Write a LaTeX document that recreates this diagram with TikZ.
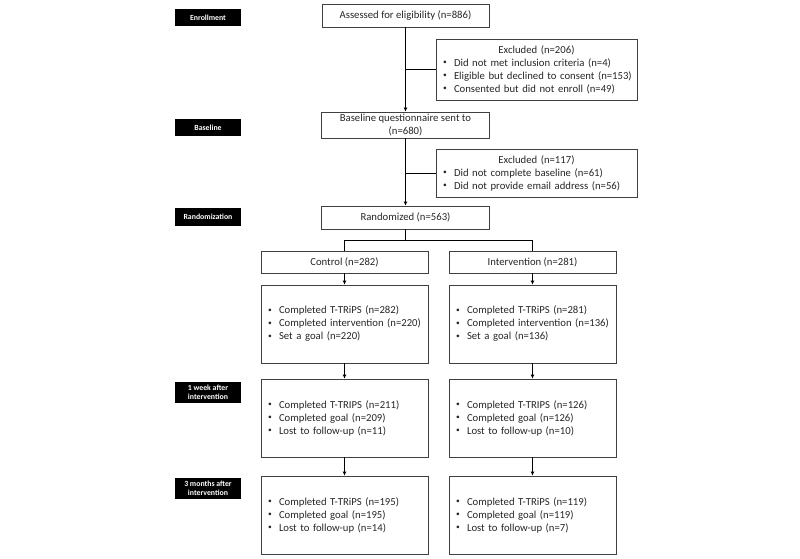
\documentclass[tikz,border=0pt]{standalone}
\usepackage{fontspec}
\setmainfont{Carlito}
\usetikzlibrary{arrows.meta,positioning}

\tikzset{
  stage/.style={fill=black,text=white,font=\fontsize{7.8}{9}\selectfont\bfseries,
    minimum width=66pt,inner sep=1pt,align=center},
  flowbox/.style={draw=black!75,line width=0.8pt,text=black!85,
    font=\fontsize{10.7}{13}\selectfont,align=center,inner sep=0pt},
  listbox/.style={flowbox,align=left,text width=#1,inner xsep=7pt},
}
\newcommand{\itm}[1]{\makebox[11pt][l]{\raisebox{0.25ex}{\fontsize{7.5}{7.5}\selectfont\textbullet}}\mbox{#1}}

\begin{document}
\begin{tikzpicture}[x=1pt,y=-1pt,>={Latex[length=4pt,width=4pt]},line width=0.8pt]
\useasboundingbox (0,0) rectangle (800,559);
% stage labels
\node[stage,minimum height=17pt] (enroll) at (208,17.5) {Enrollment};
\node[stage,minimum height=17pt] (baselab) at (208,127.5) {Baseline};
\node[stage,minimum height=18pt] (randlab) at (208,217) {Randomization};
\node[stage,minimum height=21pt] (week) at (208,392) {1 week after\\intervention};
\node[stage,minimum height=21pt] (month) at (208,488) {3 months after\\intervention};
% main column
\node[flowbox,minimum width=167pt,minimum height=23pt] (assess) at (405.5,15.5) {Assessed for eligibility (n=886)};
\node[listbox=187pt,minimum height=61pt] (excl1) at (536.5,69.5)
  {\makebox[187pt]{Excluded (n=206)}\\
   \itm{Did not met inclusion criteria (n=4)}\\
   \itm{Eligible but declined to consent (n=153)}\\
   \itm{Consented but did not enroll (n=49)}};
\node[flowbox,minimum width=168pt,minimum height=26pt] (bq) at (405.5,125) {Baseline questionnaire sent to\\(n=680)};
\node[listbox=187pt,minimum height=48pt] (excl2) at (536.5,173)
  {\makebox[187pt]{Excluded (n=117)}\\
   \itm{Did not complete baseline (n=61)}\\
   \itm{Did not provide email address (n=56)}};
\node[flowbox,minimum width=168pt,minimum height=23pt] (rand) at (405.5,217.5) {Randomized (n=563)};
% arms
\node[flowbox,minimum width=167pt,minimum height=22pt] (ctrl) at (344.5,262) {Control (n=282)};
\node[flowbox,minimum width=167pt,minimum height=22pt] (intv) at (532.5,262) {Intervention (n=281)};
\node[listbox=153pt,minimum height=78pt] (c1) at (344.5,324)
  {\itm{Completed T-TRiPS (n=282)}\\ \itm{Completed intervention (n=220)}\\ \itm{Set a goal (n=220)}};
\node[listbox=153pt,minimum height=78pt] (i1) at (532.5,324)
  {\itm{Completed T-TRiPS (n=281)}\\ \itm{Completed intervention (n=136)}\\ \itm{Set a goal (n=136)}};
\node[listbox=153pt,minimum height=78pt] (c2) at (344.5,418)
  {\itm{Completed T-TRIPS (n=211)}\\ \itm{Completed goal (n=209)}\\ \itm{Lost to follow-up (n=11)}};
\node[listbox=153pt,minimum height=78pt] (i2) at (532.5,418)
  {\itm{Completed T-TRIPS (n=126)}\\ \itm{Completed goal (n=126)}\\ \itm{Lost to follow-up (n=10)}};
\node[listbox=153pt,minimum height=78pt] (c3) at (344.5,515)
  {\itm{Completed T-TRiPS (n=195)}\\ \itm{Completed goal (n=195)}\\ \itm{Lost to follow-up (n=14)}};
\node[listbox=153pt,minimum height=78pt] (i3) at (532.5,515)
  {\itm{Completed T-TRiPS (n=119)}\\ \itm{Completed goal (n=119)}\\ \itm{Lost to follow-up (n=7)}};
% connectors
\coordinate (b1) at (assess.south |- excl1.west);
\coordinate (b2) at (bq.south |- excl2.west);
\coordinate (split) at (405.5,240);
\draw[->] (assess) -- (bq);
\draw (b1) -- (excl1.west);
\draw[->] (bq) -- (rand);
\draw (b2) -- (excl2.west);
\draw (rand) -- (split);
\draw (ctrl.north) |- (split);
\draw (intv.north) |- (split);
\draw[->] (ctrl) -- (c1);
\draw[->] (c1) -- (c2);
\draw[->] (c2) -- (c3);
\draw[->] (intv) -- (i1);
\draw[->] (i1) -- (i2);
\draw[->] (i2) -- (i3);
\end{tikzpicture}
\end{document}
